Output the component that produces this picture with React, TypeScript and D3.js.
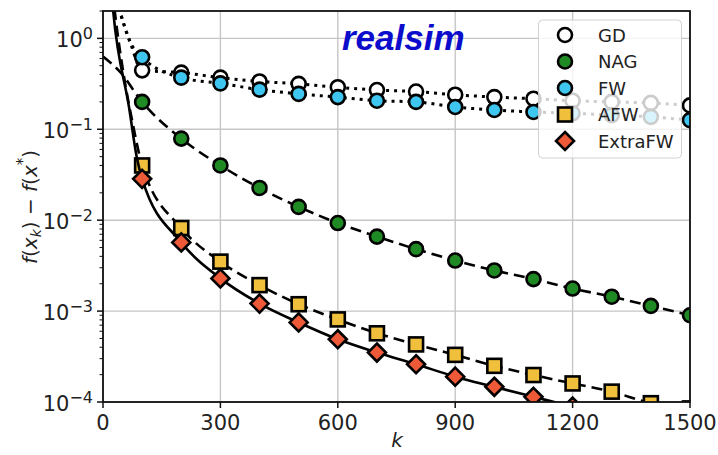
import React from "react";
import * as d3 from "d3";

// ---- data ----
const markerK = [100, 200, 300, 400, 500, 600, 700, 800, 900, 1000, 1100, 1200, 1300, 1400, 1500];

const gdValues = [0.445, 0.42, 0.37, 0.336, 0.316, 0.29, 0.27, 0.26, 0.24, 0.226, 0.217, 0.206, 0.2, 0.195, 0.183];
const nagValues = [0.2, 0.079, 0.04, 0.0226, 0.014, 0.0093, 0.0066, 0.0048, 0.0036, 0.0028, 0.00225, 0.00177, 0.00144, 0.00114, 0.0009];
const fwValues = [0.62, 0.37, 0.32, 0.273, 0.245, 0.226, 0.206, 0.2, 0.176, 0.163, 0.155, 0.15, 0.143, 0.137, 0.126];
const afwValues = [0.04, 0.0082, 0.0035, 0.00193, 0.00119, 0.00081, 0.00057, 0.00043, 0.00033, 0.00025, 0.000198, 0.00016, 0.00013, 0.000097, 0.000085];
const extraValues = [0.0285, 0.0057, 0.00229, 0.00121, 0.00075, 0.00049, 0.00035, 0.00026, 0.00019, 0.000147, 0.000114, 0.000089, 0.000072, 0.00006, 0.00005];

// early (k < 100) part of each curve
const gdHeadK = [30, 43, 69];
const gdHeadV = [3.2, 2.0, 0.92];
const nagHeadK = [0, 43];
const nagHeadV = [0.63, 0.43];
const fwHeadK = [30, 43, 69];
const fwHeadV = [3.2, 2.0, 0.92];
const afwHeadK = [20, 30, 55, 77];
const afwHeadV = [5, 2.0, 0.35, 0.11];
const extraHeadK = [18, 26, 67, 86];
const extraHeadV = [5, 2.0, 0.17, 0.05];

const xTicks = [0, 300, 600, 900, 1200, 1500];
const yTickExps = [-4, -3, -2, -1, 0];

const seriesNames = ["GD", "NAG", "FW", "AFW", "ExtraFW"];

// ---- layout ----
const W = 718, H = 455;
const L = 103, R = 690, T = 11, B = 402;

const x = d3.scaleLinear().domain([0, 1500]).range([L, R]);
const y = d3.scaleLog().domain([1e-4, 2.0]).range([B, T]);

type Series = {
  name: string;
  headK: number[];
  headV: number[];
  values: number[];
  fill: string;
  shape: "circle" | "square" | "diamond";
  dash: string;
  lw: number;
};

const series: Series[] = [
  { name: seriesNames[0], headK: gdHeadK, headV: gdHeadV, values: gdValues, fill: "#ffffff", shape: "circle", dash: "3,5", lw: 3 },
  { name: seriesNames[1], headK: nagHeadK, headV: nagHeadV, values: nagValues, fill: "#1f8a24", shape: "circle", dash: "11,6", lw: 2.6 },
  { name: seriesNames[2], headK: fwHeadK, headV: fwHeadV, values: fwValues, fill: "#3fc6f0", shape: "circle", dash: "3,5", lw: 3 },
  { name: seriesNames[3], headK: afwHeadK, headV: afwHeadV, values: afwValues, fill: "#f0c03c", shape: "square", dash: "11,6", lw: 2.6 },
  { name: seriesNames[4], headK: extraHeadK, headV: extraHeadV, values: extraValues, fill: "#ee5a38", shape: "diamond", dash: "", lw: 2.6 },
];

const line = d3
  .line<[number, number]>()
  .x((d) => x(d[0]))
  .y((d) => y(d[1]))
  .curve(d3.curveMonotoneX);

function Marker({ cx, cy, shape, fill }: { cx: number; cy: number; shape: string; fill: string }) {
  const sw = 2.6;
  if (shape === "circle") return <circle cx={cx} cy={cy} r={7} fill={fill} stroke="#000" strokeWidth={sw} />;
  if (shape === "square")
    return <rect x={cx - 7} y={cy - 7} width={14} height={14} fill={fill} stroke="#000" strokeWidth={sw} />;
  const s = 9;
  return (
    <path d={`M${cx},${cy - s}L${cx + s},${cy}L${cx},${cy + s}L${cx - s},${cy}Z`} fill={fill} stroke="#000" strokeWidth={sw} strokeLinejoin="miter" />
  );
}

export default function App() {
  const font = "'DejaVu Sans', sans-serif";
  const minorTicks: number[] = [];
  for (let e = -4; e <= 0; e++) {
    for (let m = 2; m <= 9; m++) {
      const v = m * Math.pow(10, e);
      if (v <= 2.0001) minorTicks.push(v);
    }
  }
  return (
    <svg width={W} height={H} style={{ position: "absolute", left: 0, top: 0, background: "#fff" }} fontFamily={font}>
      <defs>
        <clipPath id="plot">
          <rect x={L} y={T} width={R - L} height={B - T} />
        </clipPath>
      </defs>
      <rect x={0} y={0} width={W} height={H} fill="#fff" />
      {/* grid */}
      <g stroke="#c6c6c6" strokeWidth={1.4}>
        {xTicks.map((t) => (
          <line key={"gx" + t} x1={x(t)} x2={x(t)} y1={T} y2={B} />
        ))}
        {yTickExps.map((e) => (
          <line key={"gy" + e} x1={L} x2={R} y1={y(Math.pow(10, e))} y2={y(Math.pow(10, e))} />
        ))}
      </g>
      {/* title */}
      <text x={342} y={50} fontFamily="'Liberation Sans', Arial, sans-serif" fontWeight="bold" fontStyle="italic" fontSize={35} fill="#0c0ccc">
        realsim
      </text>
      {/* series */}
      <g clipPath="url(#plot)">
        {series.map((s) => {
          const pts: [number, number][] = [
            ...s.headK.map((k, i) => [k, s.headV[i]] as [number, number]),
            ...markerK.map((k, i) => [k, s.values[i]] as [number, number]),
          ];
          return (
            <g key={s.name}>
              <path d={line(pts) || ""} fill="none" stroke="#000" strokeWidth={s.lw} strokeDasharray={s.dash || undefined} />
              {markerK.map((k, i) => (
                <Marker key={k} cx={x(k)} cy={y(s.values[i])} shape={s.shape} fill={s.fill} />
              ))}
            </g>
          );
        })}
      </g>
      {/* spines */}
      <rect x={L} y={T} width={R - L} height={B - T} fill="none" stroke="#111" strokeWidth={1.8} />
      {/* x ticks */}
      {xTicks.map((t) => (
        <g key={"xt" + t}>
          <line x1={x(t)} x2={x(t)} y1={B} y2={B + 6} stroke="#111" strokeWidth={1.5} />
          <text x={x(t)} y={430} textAnchor="middle" fontSize={21} fill="#222">
            {t}
          </text>
        </g>
      ))}
      {/* y ticks */}
      {minorTicks.map((v, i) => (
        <line key={"ym" + i} x1={L - 3.5} x2={L} y1={y(v)} y2={y(v)} stroke="#111" strokeWidth={1} />
      ))}
      {yTickExps.map((e) => {
        const yy = y(Math.pow(10, e));
        return (
          <g key={"yt" + e}>
            <line x1={L - 6} x2={L} y1={yy} y2={yy} stroke="#111" strokeWidth={1.5} />
            <text x={93} y={yy + 9} textAnchor="end" fontSize={21} fill="#222">
              10
              <tspan dy={-8} fontSize={16}>
                {e === 0 ? "0" : "\u2212" + Math.abs(e)}
              </tspan>
            </text>
          </g>
        );
      })}
      {/* axis labels */}
      <text x={397} y={447} textAnchor="middle" fontSize={20} fontStyle="italic" fill="#222">
        k
      </text>
      <g transform="translate(37,207) rotate(-90)">
        <text x={0} y={0} textAnchor="middle" fontSize={20} fill="#222">
          <tspan fontStyle="italic">f</tspan>
          <tspan>(</tspan>
          <tspan fontStyle="italic">x</tspan>
          <tspan fontStyle="italic" fontSize={14} dy={4}>k</tspan>
          <tspan dy={-4}>)</tspan>
          <tspan>{" \u2212 "}</tspan>
          <tspan fontStyle="italic">f</tspan>
          <tspan>(</tspan>
          <tspan fontStyle="italic">x</tspan>
          <tspan fontSize={15} dy={-9}>*</tspan>
          <tspan dy={9}>)</tspan>
        </text>
      </g>
      {/* legend */}
      <rect x={538.5} y={20} width={143} height={138} rx={4} fill="#fff" fillOpacity={0.8} stroke="#cccccc" strokeOpacity={0.9} strokeWidth={1} />
      {series.map((s, i) => {
        const ly = 35 + i * 26.5;
        return (
          <g key={"lg" + s.name}>
            <Marker cx={565} cy={ly} shape={s.shape} fill={s.fill} />
            <text x={598} y={ly} dominantBaseline="central" fontSize={18} fill="#222">
              {s.name}
            </text>
          </g>
        );
      })}
    </svg>
  );
}
